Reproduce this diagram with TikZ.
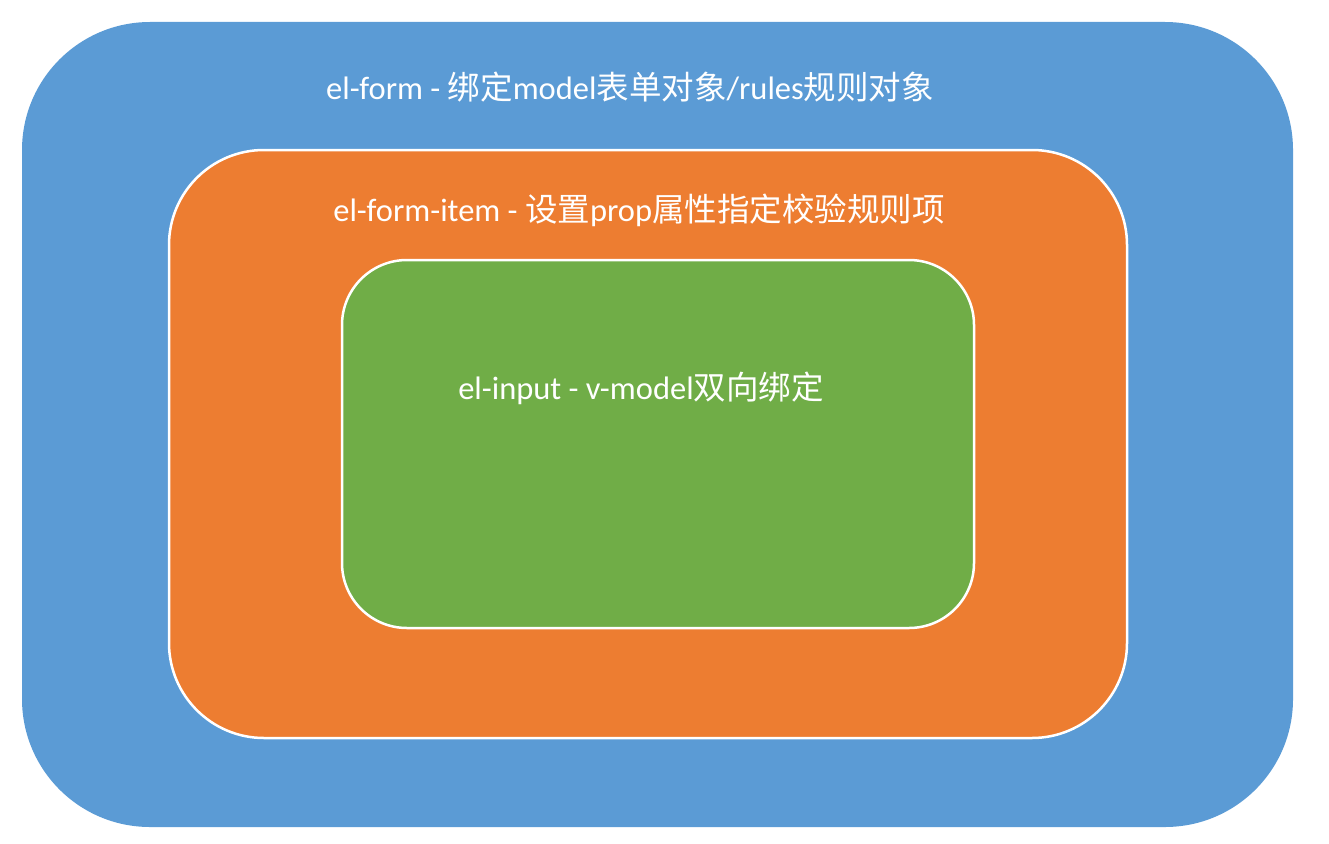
\documentclass[tikz,border=0pt]{standalone}
\usepackage{fontspec}
\setmainfont{Carlito}
\newfontfamily\cjk{Noto Sans CJK SC}
\definecolor{blueF}{HTML}{5B9BD5}
\definecolor{orangeF}{HTML}{ED7D31}
\definecolor{greenF}{HTML}{70AD47}
\begin{document}
\begin{tikzpicture}[x=1pt,y=-1pt,
  box/.style={line width=2.5pt,draw=white},
  lbl/.style={text=white,font=\fontsize{32.5}{38}\selectfont,inner sep=0pt}]
\useasboundingbox (0,0) rectangle (1329,843);
\fill[blueF,rounded corners=128pt] (22,22) rectangle (1293,827);
\filldraw[box,fill=orangeF,rounded corners=95pt] (169,150) rectangle (1127,738);
\filldraw[box,fill=greenF,rounded corners=65pt] (342,260) rectangle (974,628);
\node[lbl] (t1) at (630,87) {el-form - {\cjk 绑定}model{\cjk 表单对象}/rules{\cjk 规则对象}};
\node[lbl] (t2) at (639,210) {el-form-item - {\cjk 设置}prop{\cjk 属性指定校验规则项}};
\node[lbl] (t3) at (641,388) {el-input - v-model{\cjk 双向绑定}};
\end{tikzpicture}
\end{document}
